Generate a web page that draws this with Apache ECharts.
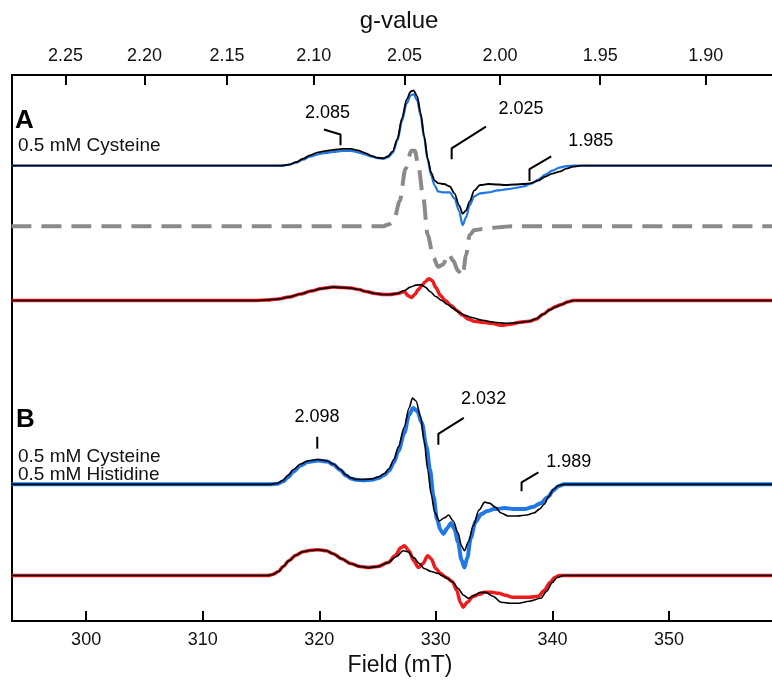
<!DOCTYPE html>
<html>
<head>
<meta charset="utf-8">
<script src="https://cdn.jsdelivr.net/npm/echarts@6/dist/echarts.min.js"></script>
<style>
  html, body { margin: 0; padding: 0; background: #fff; }
  #main { width: 772px; height: 682px; }
</style>
</head>
<body>
<div id="main"></div>
<script>
// field (mT) * g  ->  g = K / B
var K = 671.0;
var fieldTicks = [300, 310, 320, 330, 340, 350];
var gTicks = [2.25, 2.20, 2.15, 2.10, 2.05, 2.00, 1.95, 1.90];

// baselines of the stacked spectra (arbitrary units)
var baseAexp = 459.5, baseFit = 398.5, baseAred = 323.5, baseBexp = 138, baseBred = 46;

// panel A, 0.5 mM cysteine : [field mT, signal]
var aBlue = [[293.6,0],[316.8,0],[317.4,1],[318.0,3],[318.6,6],[319.2,9],[319.9,11.5],[320.6,13],[321.2,14],
  [322.0,15],[322.7,15],[323.3,13.5],[323.9,11.5],[324.5,9],[325.0,7.5],[325.5,7],[325.9,8.5],[326.3,13],
  [326.7,25],[327.1,45],[327.5,63],[327.85,71],[328.1,72],[328.4,66],[328.7,50],[329.0,28],[329.3,6],
  [329.6,-10],[329.9,-20],[330.2,-26],[330.7,-27],[331.2,-27],[331.6,-33],[332.0,-46],[332.3,-60],[332.6,-52],
  [332.9,-40],[333.3,-31],[333.8,-28],[334.5,-27],[335.3,-25],[336.0,-24],[336.8,-22.5],[337.5,-21],
  [338.2,-18],[338.8,-14],[339.4,-9],[340.0,-5],[340.6,-2],[341.2,-0.5],[341.8,0],[358.9,0]];
var aBlueSim = [[293.6,0],[316.8,0],[317.4,1],[318.0,3.5],[318.6,7],[319.2,10.5],[319.9,13.5],[320.6,15],
  [321.2,16],[322.0,17],[322.7,17],[323.3,15.5],[323.9,13],[324.5,10],[325.0,8],[325.5,7.5],[325.9,9.5],
  [326.3,14.5],[326.7,27],[327.1,48],[327.5,67],[327.85,75],[328.1,76],[328.4,70],[328.7,53],[329.0,30],
  [329.3,7],[329.6,-7],[329.9,-15],[330.2,-17.5],[330.7,-18.5],[331.2,-21],[331.6,-28],[332.0,-40],
  [332.3,-48.5],[332.6,-45],[332.9,-36],[333.3,-25],[333.8,-19.5],[334.5,-18.5],[335.3,-19],[336.0,-19.5],
  [336.8,-19],[337.5,-18.5],[338.2,-17.5],[338.8,-15],[339.4,-11],[340.0,-8],[340.6,-6],[341.2,-3],
  [341.8,-1],[342.5,0],[358.9,0]];
var aFit = [[293.6,0],[325.5,0],[326.0,2],[326.4,6],[326.9,25],[327.4,58],[327.9,76],[328.2,76],[328.5,61],
  [328.9,31],[329.3,-9],[329.8,-32],[330.2,-41],[330.6,-39],[331.1,-28],[331.5,-35],[331.9,-45],[332.3,-50],
  [332.6,-29],[332.9,-9],[333.3,-4],[334.0,-3],[335.0,-1.5],[335.5,-1],[336.5,0],[358.9,0]];
var aRed = [[293.6,0],[314.5,0],[315.5,0.5],[316.5,1.5],[317.4,3.5],[318.4,6.5],[319.3,9.5],[320.2,12],
  [321.2,13.5],[322.0,13],[322.7,12.5],[323.4,11],[324.0,9],[324.8,7],[325.5,6],[326.1,6],[326.7,7],
  [327.3,9],[327.6,5],[327.9,3],[328.2,6],[328.5,11],[328.8,15],[329.1,19],[329.4,22],[329.7,20],[330.0,13],
  [330.4,5],[330.8,0],[331.3,-5],[331.8,-10],[332.3,-15],[332.8,-19],[333.3,-21],[334.0,-22],[334.8,-23],
  [335.6,-25],[336.4,-24],[337.2,-22],[338.0,-21],[338.6,-19],[339.2,-14],[339.8,-9],[340.3,-6],[340.8,-4],
  [341.3,-1.5],[341.8,0],[358.9,0]];
var aRedSim = [[293.6,0],[314.5,0],[315.5,0.5],[316.5,1.5],[317.4,3.5],[318.4,6.5],[319.3,9.5],[320.2,12],
  [321.2,13.5],[322.0,13],[322.7,12.5],[323.4,11],[324.0,9],[324.8,7],[325.5,6],[326.1,6],[326.7,7],
  [327.3,10],[327.8,13.5],[328.3,15.5],[328.7,16],[329.1,13.5],[329.5,9],[330.0,4],[330.5,0],[331.0,-4],
  [331.5,-8],[332.0,-12],[332.5,-15],[333.0,-17],[334.0,-20],[335.0,-22],[336.0,-23],[337.0,-22.5],
  [338.0,-21],[338.6,-18.5],[339.2,-14],[339.8,-9.5],[340.3,-6.5],[340.8,-4],[341.3,-1.5],[341.8,0],[358.9,0]];

// panel B, 0.5 mM cysteine + 0.5 mM histidine
var bBlue = [[293.6,0],[315.8,0],[316.4,0.5],[316.9,3],[317.3,7],[317.8,13],[318.4,19],[319.0,22.5],
  [319.9,24],[320.7,23],[321.2,20],[321.8,14.5],[322.3,9],[322.7,6],[323.2,4.5],[323.8,4],[324.5,4.5],
  [325.1,6.5],[325.6,9.5],[326.0,14],[326.4,22],[326.8,34],[327.3,52],[327.7,70],[328.05,77],[328.4,74],
  [328.8,62],[329.2,38],[329.5,15],[329.8,-12],[330.1,-35],[330.4,-46],[330.65,-50],[331.0,-44],[331.3,-39],
  [331.6,-45],[331.9,-58],[332.2,-76],[332.45,-84],[332.7,-74],[333.0,-54],[333.4,-38],[333.9,-30],
  [334.4,-27],[335.0,-25],[335.9,-24],[336.8,-25],[337.6,-25],[338.3,-23],[339.0,-19],[339.6,-13],
  [340.1,-6],[340.5,-2],[341.0,0],[358.9,0]];
var bBlueSim = [[293.6,0],[315.8,0],[316.4,1],[316.9,4],[317.3,9],[317.8,15],[318.4,20.5],[319.0,23.5],
  [319.9,25],[320.7,23.5],[321.2,20.5],[321.8,15],[322.3,9.5],[322.7,6.5],[323.2,5],[323.8,4.8],[324.5,5.5],
  [325.1,7.5],[325.6,11],[326.0,16],[326.4,25],[326.8,38],[327.3,58],[327.7,77],[328.0,87],[328.3,84],
  [328.7,68],[329.0,44],[329.3,15],[329.6,-10],[329.9,-28],[330.3,-37],[330.7,-34],[331.1,-31],[331.5,-37],
  [331.9,-49],[332.2,-62],[332.45,-67],[332.8,-58],[333.2,-42],[333.7,-26],[334.2,-18],[334.6,-19],
  [335.1,-23],[335.6,-29],[336.2,-32],[337.0,-32],[337.8,-31],[338.4,-29],[338.9,-25],[339.3,-20],
  [339.7,-12],[340.1,-5],[340.5,-1.5],[341.0,0],[358.9,0]];
var bRed = [[293.6,0],[315.6,0],[316.0,1],[316.5,4],[316.9,9],[317.4,15],[318.0,20.5],[318.6,24],[319.3,25.5],
  [319.9,26],[320.6,25],[321.2,22],[321.9,17],[322.7,12],[323.5,9],[324.2,8],[325.0,9],[325.9,13],[326.5,20],
  [327.0,28],[327.3,30],[327.7,25],[328.1,15],[328.5,8],[328.9,12],[329.3,20],[329.6,17],[330.0,7],
  [330.4,2],[330.9,-2],[331.4,-6],[331.8,-15],[332.1,-27],[332.35,-32],[332.7,-27],[333.2,-21],[333.7,-19],
  [334.2,-17],[334.8,-17],[335.4,-18],[336.0,-20],[336.6,-22],[337.3,-22],[338.0,-22],[338.8,-21],
  [339.3,-15],[339.8,-7],[340.2,-2],[340.6,0],[358.9,0]];
var bRedSim = [[293.6,0],[315.6,0],[316.0,1],[316.5,4],[316.9,9],[317.4,15],[318.0,20.5],[318.6,24],
  [319.3,25.5],[319.9,26],[320.6,25],[321.2,22],[321.9,17],[322.7,12],[323.5,9],[324.2,8],[325.0,9],
  [325.9,13],[326.6,19],[327.2,25],[327.6,24],[328.1,18],[328.6,12],[329.0,7],[329.6,4],[330.2,2],
  [330.6,-0.5],[331.0,-3],[331.5,-7],[331.9,-13],[332.4,-20],[332.8,-23],[333.3,-20],[333.8,-17],[334.3,-17],
  [334.9,-21],[335.6,-27],[336.4,-28],[337.1,-28],[338.0,-26],[339.0,-23],[339.5,-16],[340.0,-7],[340.4,-2],
  [341.0,0],[358.9,0]];

// g-value markers: label, label position, bracket path
var markLabels = [
  { name: '2.085', value: [320.7, 513] },
  { name: '2.025', value: [337.3, 517] },
  { name: '1.985', value: [343.3, 484] },
  { name: '2.098', value: [319.8, 206] },
  { name: '2.032', value: [334.1, 224] },
  { name: '1.989', value: [341.4, 161] }
];
var brackets = [
  [[320.4, 496], [K / 2.085, 491], [K / 2.085, 480]],
  [[334.3, 499], [K / 2.025, 477], [K / 2.025, 466]],
  [[339.9, 469], [K / 1.985, 456], [K / 1.985, 444]],
  [[K / 2.098, 186], [K / 2.098, 174]],
  [[332.4, 205], [K / 2.032, 189], [K / 2.032, 178]],
  [[338.8, 150], [K / 1.989, 140], [K / 1.989, 131]]
];

function shift(arr, base) {
  return arr.map(function (p) { return [p[0], p[1] + base]; });
}

var BLUE = '#1f78e6', RED = '#ee1c1c', FONT = 'Liberation Sans, Arial, sans-serif';

function trace(data, base, color, width, extra) {
  var s = {
    type: 'line', data: shift(data, base), showSymbol: false, smooth: 0.3, smoothMonotone: 'x',
    lineStyle: { color: color, width: width }, silent: true, z: 3
  };
  if (extra) Object.assign(s.lineStyle, extra);
  return s;
}

var myChart = echarts.init(document.getElementById('main'));

var series = [
  trace(aBlue, baseAexp, BLUE, 2.2),
  trace(aBlueSim, baseAexp, '#000', 1.8),
  trace(aFit, baseFit, '#8a8a8a', 4, { type: [20, 10] }),
  trace(aRed, baseAred, RED, 3.5),
  trace(aRedSim, baseAred, '#000', 1.6),
  trace(bBlue, baseBexp, BLUE, 4),
  trace(bBlueSim, baseBexp, '#000', 1.6),
  trace(bRed, baseBred, RED, 3.5),
  trace(bRedSim, baseBred, '#000', 1.6)
];
brackets.forEach(function (b) {
  series.push({ type: 'line', data: b, showSymbol: false, silent: true, lineStyle: { color: '#000', width: 2 }, z: 4 });
});
series.push({
  type: 'scatter', data: markLabels, symbolSize: 0, silent: true, z: 5, itemStyle: { opacity: 1 },
  label: { show: true, position: 'inside', formatter: '{b}', color: '#000', fontSize: 18, fontFamily: FONT }
});

var option = {
  animation: false,
  backgroundColor: '#fff',
  grid: { left: 12, right: 0, top: 75, bottom: 56 },
  xAxis: [
    {
      type: 'value', position: 'bottom', min: 293.64, max: 358.84,
      name: 'Field (mT)', nameLocation: 'middle', nameGap: 31,
      nameTextStyle: { fontSize: 23, color: '#111', fontFamily: FONT, padding: [0, 0, 0, 16] },
      axisLine: { lineStyle: { color: '#000', width: 2 } },
      axisTick: { inside: true, length: 10, customValues: fieldTicks, lineStyle: { color: '#000', width: 2 } },
      axisLabel: { customValues: fieldTicks, fontSize: 18, color: '#111', margin: 10, fontFamily: FONT },
      splitLine: { show: false }
    },
    {
      type: 'value', position: 'top', min: 293.64, max: 358.84,
      name: 'g-value', nameLocation: 'middle', nameGap: 42,
      nameTextStyle: { fontSize: 24, color: '#111', fontFamily: FONT, padding: [0, 0, 0, 14] },
      axisLine: { lineStyle: { color: '#000', width: 2 } },
      axisTick: { inside: true, length: 10, customValues: gTicks.map(function (g) { return K / g; }),
        lineStyle: { color: '#000', width: 2 } },
      axisLabel: { customValues: gTicks.map(function (g) { return K / g; }), fontSize: 18, color: '#111',
        margin: 10, fontFamily: FONT, formatter: function (v) { return (K / v).toFixed(2); } },
      splitLine: { show: false }
    }
  ],
  yAxis: {
    type: 'value', min: 0, max: 551,
    axisLine: { show: true, lineStyle: { color: '#000', width: 2 } },
    axisTick: { show: false }, axisLabel: { show: false }, splitLine: { show: false }
  },
  graphic: [
    { type: 'text', left: 15, top: 108, style: { text: 'A', font: 'bold 26px ' + FONT, fill: '#000' } },
    { type: 'text', left: 18, top: 136, style: { text: '0.5 mM Cysteine', font: '19px ' + FONT, fill: '#111' } },
    { type: 'text', left: 16, top: 407, style: { text: 'B', font: 'bold 26px ' + FONT, fill: '#000' } },
    { type: 'text', left: 18, top: 447, style: { text: '0.5 mM Cysteine\n0.5 mM Histidine', font: '19px ' + FONT,
      lineHeight: 18.5, fill: '#111' } }
  ],
  series: series
};
myChart.setOption(option);
</script>
</body>
</html>
